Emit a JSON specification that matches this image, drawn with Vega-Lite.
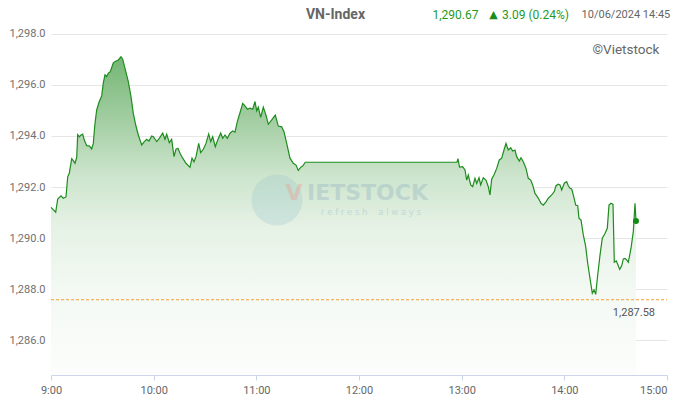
{
  "$schema": "https://vega.github.io/schema/vega-lite/v6.json",
  "width": 616,
  "height": 351,
  "autosize": {"type": "none"},
  "padding": {"left": 51, "top": 24, "right": 11, "bottom": 31},
  "background": "white",
  "config": {
    "view": {"stroke": null},
    "font": "Roboto"
  },
  "datasets": {
    "series": [
      {"t": 9.0, "v": 1291.20}, {"t": 9.0458, "v": 1291.01}, {"t": 9.0653, "v": 1291.53}, {"t": 9.0974, "v": 1291.65},
      {"t": 9.1198, "v": 1291.56}, {"t": 9.1461, "v": 1291.61}, {"t": 9.1627, "v": 1292.40}, {"t": 9.1782, "v": 1292.54},
      {"t": 9.2016, "v": 1293.11}, {"t": 9.2172, "v": 1293.03}, {"t": 9.2338, "v": 1292.93}, {"t": 9.2503, "v": 1293.16},
      {"t": 9.2601, "v": 1294.05}, {"t": 9.2756, "v": 1293.97}, {"t": 9.2922, "v": 1294.04}, {"t": 9.3088, "v": 1294.07},
      {"t": 9.3243, "v": 1293.84}, {"t": 9.3477, "v": 1293.62}, {"t": 9.3730, "v": 1293.61}, {"t": 9.3964, "v": 1293.49},
      {"t": 9.4120, "v": 1293.71}, {"t": 9.4286, "v": 1294.50}, {"t": 9.4451, "v": 1295.02}, {"t": 9.4675, "v": 1295.32},
      {"t": 9.4938, "v": 1295.57}, {"t": 9.5094, "v": 1296.07}, {"t": 9.5260, "v": 1296.40}, {"t": 9.5425, "v": 1296.33},
      {"t": 9.5581, "v": 1296.46}, {"t": 9.5776, "v": 1296.52}, {"t": 9.6068, "v": 1296.87}, {"t": 9.6302, "v": 1296.93},
      {"t": 9.6555, "v": 1296.98}, {"t": 9.6818, "v": 1297.11}, {"t": 9.6983, "v": 1297.01}, {"t": 9.7207, "v": 1296.65},
      {"t": 9.7529, "v": 1296.13}, {"t": 9.7792, "v": 1295.54}, {"t": 9.8016, "v": 1294.89}, {"t": 9.8250, "v": 1294.43},
      {"t": 9.8503, "v": 1294.04}, {"t": 9.8834, "v": 1293.65}, {"t": 9.9087, "v": 1293.78}, {"t": 9.9321, "v": 1293.87},
      {"t": 9.9545, "v": 1293.80}, {"t": 9.9808, "v": 1294.00}, {"t": 9.9964, "v": 1293.97}, {"t": 10.0295, "v": 1293.78},
      {"t": 10.0548, "v": 1293.91}, {"t": 10.0879, "v": 1294.11}, {"t": 10.1103, "v": 1293.87}, {"t": 10.1269, "v": 1294.07},
      {"t": 10.1522, "v": 1293.74}, {"t": 10.1756, "v": 1293.87}, {"t": 10.1980, "v": 1293.19}, {"t": 10.2175, "v": 1293.48},
      {"t": 10.2370, "v": 1293.52}, {"t": 10.2564, "v": 1293.32}, {"t": 10.2827, "v": 1293.13}, {"t": 10.3149, "v": 1292.93},
      {"t": 10.3538, "v": 1292.77}, {"t": 10.3733, "v": 1293.13}, {"t": 10.3928, "v": 1292.99}, {"t": 10.4123, "v": 1293.19},
      {"t": 10.4386, "v": 1293.71}, {"t": 10.4581, "v": 1293.35}, {"t": 10.4834, "v": 1293.48}, {"t": 10.5097, "v": 1293.71},
      {"t": 10.5360, "v": 1294.08}, {"t": 10.5555, "v": 1293.78}, {"t": 10.5750, "v": 1293.97}, {"t": 10.6003, "v": 1293.58},
      {"t": 10.6266, "v": 1293.87}, {"t": 10.6529, "v": 1294.11}, {"t": 10.6724, "v": 1293.91}, {"t": 10.6948, "v": 1294.04},
      {"t": 10.7172, "v": 1293.91}, {"t": 10.7435, "v": 1294.11}, {"t": 10.7698, "v": 1294.20}, {"t": 10.7922, "v": 1294.15},
      {"t": 10.8146, "v": 1294.56}, {"t": 10.8409, "v": 1294.91}, {"t": 10.8672, "v": 1295.28}, {"t": 10.8896, "v": 1295.18},
      {"t": 10.9120, "v": 1295.05}, {"t": 10.9383, "v": 1295.09}, {"t": 10.9646, "v": 1295.05}, {"t": 10.9870, "v": 1295.35},
      {"t": 11.0035, "v": 1294.99}, {"t": 11.0191, "v": 1295.13}, {"t": 11.0425, "v": 1294.73}, {"t": 11.0678, "v": 1295.13},
      {"t": 11.0941, "v": 1294.82}, {"t": 11.1165, "v": 1294.46}, {"t": 11.1496, "v": 1294.63}, {"t": 11.1847, "v": 1294.82},
      {"t": 11.2139, "v": 1294.39}, {"t": 11.2470, "v": 1294.36}, {"t": 11.2694, "v": 1294.17}, {"t": 11.2957, "v": 1293.71},
      {"t": 11.3279, "v": 1293.13}, {"t": 11.3600, "v": 1292.93}, {"t": 11.3863, "v": 1292.86}, {"t": 11.4087, "v": 1292.65},
      {"t": 11.4321, "v": 1292.77}, {"t": 11.4516, "v": 1292.82}, {"t": 11.4769, "v": 1292.97}, {"t": 12.9544, "v": 1292.97},
      {"t": 12.9641, "v": 1293.11}, {"t": 12.9788, "v": 1292.78}, {"t": 13.0099, "v": 1292.80}, {"t": 13.0323, "v": 1292.67},
      {"t": 13.0489, "v": 1292.27}, {"t": 13.0644, "v": 1292.47}, {"t": 13.0878, "v": 1292.08}, {"t": 13.1073, "v": 1292.01},
      {"t": 13.1297, "v": 1292.34}, {"t": 13.1463, "v": 1292.14}, {"t": 13.1687, "v": 1292.36}, {"t": 13.1852, "v": 1292.08},
      {"t": 13.2106, "v": 1292.36}, {"t": 13.2369, "v": 1292.27}, {"t": 13.2593, "v": 1292.01}, {"t": 13.2758, "v": 1291.69},
      {"t": 13.2924, "v": 1292.31}, {"t": 13.3177, "v": 1292.50}, {"t": 13.3411, "v": 1292.73}, {"t": 13.3664, "v": 1293.06},
      {"t": 13.3898, "v": 1293.13}, {"t": 13.4122, "v": 1293.45}, {"t": 13.4317, "v": 1293.71}, {"t": 13.4541, "v": 1293.45},
      {"t": 13.4775, "v": 1293.54}, {"t": 13.4970, "v": 1293.41}, {"t": 13.5194, "v": 1293.45}, {"t": 13.5359, "v": 1293.19},
      {"t": 13.5613, "v": 1293.02}, {"t": 13.5778, "v": 1293.15}, {"t": 13.6002, "v": 1292.99}, {"t": 13.6265, "v": 1292.73},
      {"t": 13.6489, "v": 1292.34}, {"t": 13.6723, "v": 1292.27}, {"t": 13.6918, "v": 1292.08}, {"t": 13.7142, "v": 1291.75},
      {"t": 13.7366, "v": 1291.62}, {"t": 13.7561, "v": 1291.49}, {"t": 13.7727, "v": 1291.36}, {"t": 13.7951, "v": 1291.29},
      {"t": 13.8214, "v": 1291.42}, {"t": 13.8438, "v": 1291.56}, {"t": 13.8769, "v": 1291.69}, {"t": 13.9022, "v": 1291.82},
      {"t": 13.9188, "v": 1292.05}, {"t": 13.9412, "v": 1292.11}, {"t": 13.9578, "v": 1292.08}, {"t": 13.9743, "v": 1291.88},
      {"t": 13.9996, "v": 1292.15}, {"t": 14.0230, "v": 1292.21}, {"t": 14.0386, "v": 1292.05}, {"t": 14.0552, "v": 1291.95},
      {"t": 14.0717, "v": 1291.92}, {"t": 14.0873, "v": 1291.69}, {"t": 14.1107, "v": 1291.29}, {"t": 14.1302, "v": 1291.27},
      {"t": 14.1428, "v": 1290.77}, {"t": 14.1623, "v": 1290.71}, {"t": 14.1847, "v": 1290.12}, {"t": 14.2081, "v": 1289.66},
      {"t": 14.2276, "v": 1289.01}, {"t": 14.2500, "v": 1288.42}, {"t": 14.2724, "v": 1287.83}, {"t": 14.2890, "v": 1287.96},
      {"t": 14.3055, "v": 1287.79}, {"t": 14.3250, "v": 1288.55}, {"t": 14.3474, "v": 1289.33}, {"t": 14.3698, "v": 1289.99},
      {"t": 14.3961, "v": 1290.18}, {"t": 14.4185, "v": 1290.38}, {"t": 14.4351, "v": 1291.29}, {"t": 14.4546, "v": 1291.36},
      {"t": 14.4741, "v": 1291.32}, {"t": 14.4867, "v": 1289.05}, {"t": 14.5062, "v": 1289.10}, {"t": 14.5198, "v": 1288.97},
      {"t": 14.5393, "v": 1288.77}, {"t": 14.5588, "v": 1288.91}, {"t": 14.5744, "v": 1289.18}, {"t": 14.5910, "v": 1289.20},
      {"t": 14.6075, "v": 1289.14}, {"t": 14.6231, "v": 1289.05}, {"t": 14.6494, "v": 1289.60}, {"t": 14.6718, "v": 1290.25},
      {"t": 14.6883, "v": 1291.36}, {"t": 14.6981, "v": 1290.67}
    ]
  },
  "encoding": {
    "x": {
      "field": "t", "type": "quantitative", "title": null,
      "scale": {"domain": [9, 15], "nice": false, "zero": false},
      "axis": {
        "title": null,
        "values": [9, 10, 11, 12, 13, 14, 15],
        "labelExpr": "format(datum.value, 'd') + ':00'",
        "labelAlign": {"condition": {"test": "datum.value >= 15", "value": "right"}, "value": "center"},
        "grid": false,
        "domainColor": "#ccd6eb",
        "tickColor": "#ccd6eb",
        "tickSize": 5,
        "labelColor": "#666666",
        "labelFontSize": 11,
        "labelFont": "Roboto",
        "labelPadding": 4,
        "labelFlush": false
      }
    },
    "y": {
      "field": "v", "type": "quantitative", "title": null,
      "scale": {"domain": [1284.63, 1298.39], "nice": false, "zero": false},
      "axis": {
        "title": null,
        "values": [1286, 1288, 1290, 1292, 1294, 1296, 1298],
        "format": ",.1f",
        "grid": true,
        "gridColor": "#e6e6e6",
        "domain": false,
        "ticks": false,
        "labelColor": "#707070",
        "labelFontSize": 11,
        "labelFont": "Roboto",
        "labelPadding": 6
      }
    }
  },
  "layer": [
    {
      "data": {"name": "series"},
      "mark": {
        "type": "area",
        "interpolate": "linear",
        "opacity": 1,
        "fillOpacity": 1,
        "color": {
          "gradient": "linear",
          "x1": 0, "y1": 0, "x2": 0, "y2": 1,
          "stops": [
            {"offset": 0, "color": "#74b674"},
            {"offset": 0.2, "color": "#a3cea3"},
            {"offset": 0.37, "color": "#cce4cc"},
            {"offset": 0.54, "color": "#e6f2e6"},
            {"offset": 0.75, "color": "#f4f9f4"},
            {"offset": 1, "color": "#fcfdfc"}
          ]
        }
      },
      "encoding": {
        "y2": {"datum": 1284.63}
      }
    },
    {
      "data": {"values": [{"t": 11.201, "v": 1291.49}]},
      "mark": {"type": "point", "filled": true, "shape": "circle", "size": 2600, "color": "#9cc8cc", "opacity": 0.3}
    },
    {
      "data": {"values": [{"t": 11.367, "v": 1291.76, "label": "V"}]},
      "mark": {"type": "text", "align": "center", "baseline": "middle", "color": "#e8a090", "opacity": 0.4, "font": "DejaVu Sans", "fontWeight": "bold", "fontSize": 22},
      "encoding": {"text": {"field": "label"}}
    },
    {
      "data": {"values": [{"t": 12.083, "v": 1291.76, "label": "IETSTOCK"}]},
      "mark": {"type": "text", "align": "center", "baseline": "middle", "color": "#8fb0c0", "opacity": 0.35, "font": "DejaVu Sans", "fontWeight": "bold", "fontSize": 22},
      "encoding": {"text": {"field": "label"}}
    },
    {
      "data": {"values": [{"t": 12.117, "v": 1291.02, "label": "r e f r e s h \u00a0 \u00a0a l w a y s"}]},
      "mark": {"type": "text", "align": "center", "baseline": "middle", "color": "#8fb0c0", "opacity": 0.35, "font": "DejaVu Sans", "fontSize": 8.5},
      "encoding": {"text": {"field": "label"}}
    },
    {
      "data": {"values": [{"t": 9, "v": 1287.58}]},
      "mark": {"type": "rule", "color": "#f5a030", "strokeDash": [3, 2], "strokeWidth": 1},
      "encoding": {"x2": {"datum": 15}}
    },
    {
      "data": {"name": "series"},
      "mark": {"type": "line", "color": "#1e8c1e", "strokeWidth": 1.2, "interpolate": "linear"}
    },
    {
      "data": {"values": [{"t": 14.6981, "v": 1290.67}]},
      "mark": {"type": "point", "filled": true, "shape": "circle", "size": 36, "color": "#138a13", "opacity": 1}
    },
    {
      "data": {"values": [{"t": 11.771, "v": 1298.75, "label": "VN-Index"}]},
      "mark": {"type": "text", "align": "center", "baseline": "middle", "font": "Roboto", "fontWeight": "bold", "fontSize": 14, "color": "#666666"},
      "encoding": {"text": {"field": "label"}}
    },
    {
      "data": {"values": [
        {"t": 12.940, "v": 1298.75, "label": "1,290.67"},
        {"t": 13.719, "v": 1298.75, "label": "3.09 (0.24%)"}
      ]},
      "mark": {"type": "text", "align": "center", "baseline": "middle", "font": "Roboto", "fontSize": 12, "color": "#1f9a1f"},
      "encoding": {"text": {"field": "label"}}
    },
    {
      "data": {"values": [{"t": 13.310, "v": 1298.75, "label": "▲"}]},
      "mark": {"type": "text", "align": "center", "baseline": "middle", "font": "DejaVu Sans", "fontSize": 11, "color": "#1a8a1a"},
      "encoding": {"text": {"field": "label"}}
    },
    {
      "data": {"values": [{"t": 14.600, "v": 1298.75, "label": "10/06/2024 14:45"}]},
      "mark": {"type": "text", "align": "center", "baseline": "middle", "font": "Roboto", "fontSize": 11, "color": "#666666"},
      "encoding": {"text": {"field": "label"}}
    },
    {
      "data": {"values": [{"t": 14.600, "v": 1297.37, "label": "©Vietstock"}]},
      "mark": {"type": "text", "align": "center", "baseline": "middle", "font": "Roboto", "fontSize": 13.5, "color": "#666666"},
      "encoding": {"text": {"field": "label"}}
    },
    {
      "data": {"values": [{"t": 14.678, "v": 1287.06, "label": "1,287.58"}]},
      "mark": {"type": "text", "align": "center", "baseline": "middle", "font": "Roboto", "fontSize": 11, "color": "#555555"},
      "encoding": {"text": {"field": "label"}}
    }
  ]
}
